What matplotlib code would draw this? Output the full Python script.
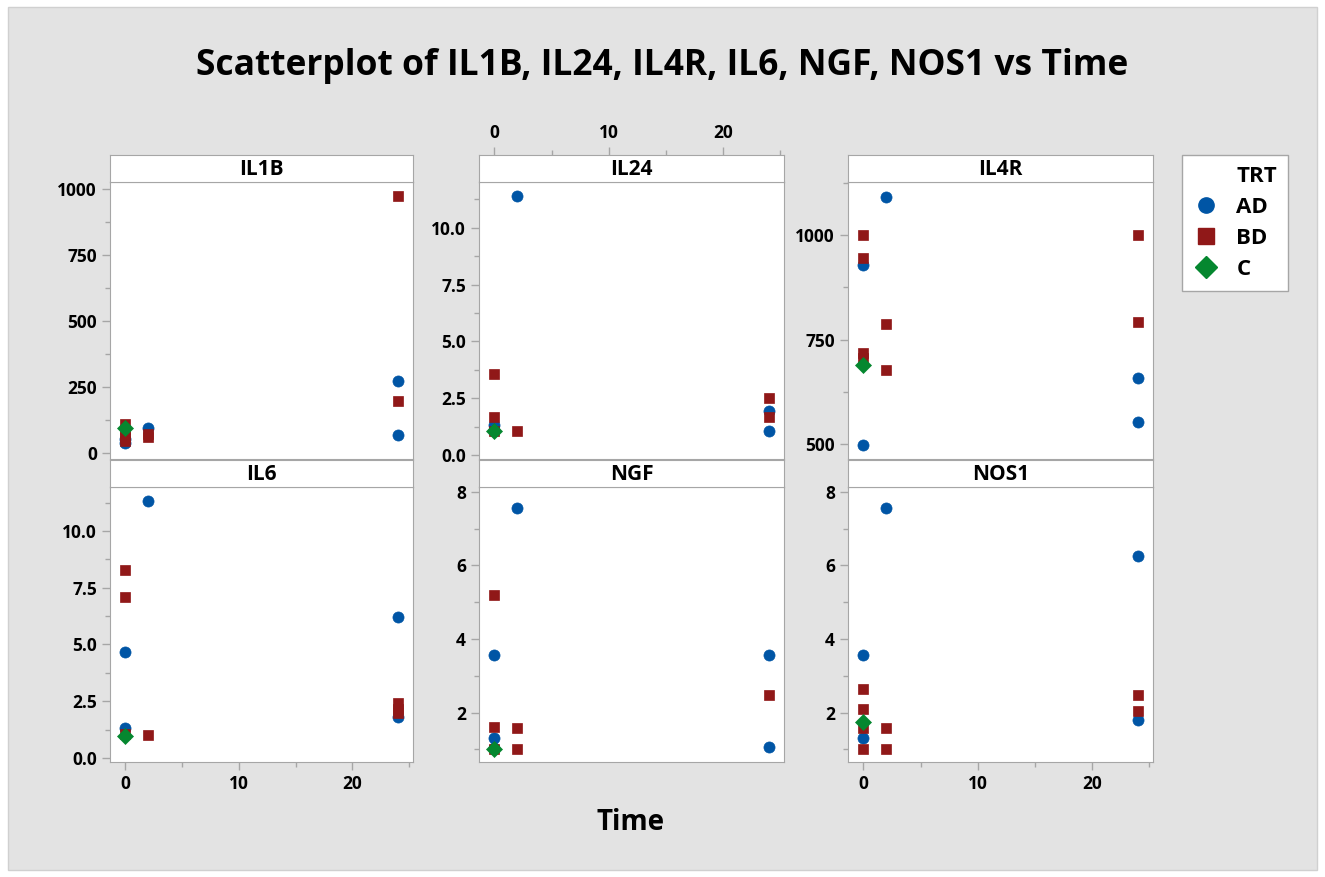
import matplotlib
matplotlib.use('Agg')
import matplotlib.pyplot as plt
from matplotlib.ticker import MultipleLocator
from matplotlib.lines import Line2D
from matplotlib.patches import Rectangle

plt.rcParams['font.family'] = ['Open Sans', 'DejaVu Sans']

# long-format data per gene: Time, TRT, value
il1b_time = [0, 0, 0, 0, 0, 0, 0, 2, 2, 2, 24, 24, 24, 24]
il1b_trt = ['AD', 'AD', 'BD', 'BD', 'BD', 'BD', 'C', 'AD', 'BD', 'BD', 'AD', 'AD', 'BD', 'BD']
il1b_val = [35, 50, 110, 85, 60, 45, 92, 95, 70, 58, 273, 68, 972, 197]

il24_time = [0, 0, 0, 0, 0, 0, 2, 2, 24, 24, 24, 24]
il24_trt = ['AD', 'AD', 'BD', 'BD', 'BD', 'C', 'AD', 'BD', 'AD', 'AD', 'BD', 'BD']
il24_val = [1.33, 1.1, 3.58, 1.69, 1.08, 1.08, 11.38, 1.08, 1.94, 1.08, 2.5, 1.68]

il4r_time = [0, 0, 0, 0, 0, 0, 0, 2, 2, 2, 24, 24, 24, 24]
il4r_trt = ['AD', 'AD', 'BD', 'BD', 'BD', 'BD', 'C', 'AD', 'BD', 'BD', 'AD', 'AD', 'BD', 'BD']
il4r_val = [928, 497, 1000, 945, 718, 706, 690, 1091, 786, 678, 657, 553, 1000, 792]

il6_time = [0, 0, 0, 0, 0, 0, 2, 2, 24, 24, 24, 24, 24]
il6_trt = ['AD', 'AD', 'BD', 'BD', 'BD', 'C', 'AD', 'BD', 'AD', 'AD', 'BD', 'BD', 'BD']
il6_val = [4.68, 1.31, 8.3, 7.09, 1.05, 0.98, 11.32, 1.0, 6.2, 1.8, 2.4, 2.15, 2.0]

ngf_time = [0, 0, 0, 0, 0, 0, 0, 2, 2, 2, 24, 24, 24]
ngf_trt = ['AD', 'AD', 'AD', 'BD', 'BD', 'BD', 'C', 'AD', 'BD', 'BD', 'AD', 'AD', 'BD']
ngf_val = [3.56, 1.32, 1.05, 5.2, 1.62, 1.0, 1.0, 7.55, 1.57, 1.0, 3.57, 1.06, 2.48]

nos1_time = [0, 0, 0, 0, 0, 0, 0, 2, 2, 2, 24, 24, 24, 24]
nos1_trt = ['AD', 'AD', 'BD', 'BD', 'BD', 'BD', 'C', 'AD', 'BD', 'BD', 'AD', 'AD', 'BD', 'BD']
nos1_val = [3.56, 1.31, 2.65, 2.1, 1.59, 1.0, 1.75, 7.55, 1.57, 1.0, 6.26, 1.8, 2.48, 2.05]

genes = ['IL1B', 'IL24', 'IL4R', 'IL6', 'NGF', 'NOS1']
times = [il1b_time, il24_time, il4r_time, il6_time, ngf_time, nos1_time]
trts = [il1b_trt, il24_trt, il4r_trt, il6_trt, ngf_trt, nos1_trt]
vals = [il1b_val, il24_val, il4r_val, il6_val, ngf_val, nos1_val]

groups = ['AD', 'BD', 'C']
colors = {'AD': '#0055a5', 'BD': '#901818', 'C': '#05872f'}
markers = {'AD': 'o', 'BD': 's', 'C': 'D'}
msize = {'AD': 8, 'BD': 7.5, 'C': 8}

ylims = [(-24, 1026), (-0.16, 12.0), (464, 1127), (-0.18, 11.94), (0.66, 8.13), (0.66, 8.13)]
ymaj = [250, 2.5, 250, 2.5, 2, 2]

W, H = 1325, 877
fig = plt.figure(figsize=(W / 100, H / 100), dpi=100)
fig.patches.append(Rectangle((8 / W, 1 - 870 / H), (1317 - 8) / W, (870 - 7) / H,
                             transform=fig.transFigure, facecolor='#e3e3e3',
                             edgecolor='#d0d0d0', lw=1, zorder=-5))


def rect(l, t, r, b):
    return [l / W, 1 - b / H, (r - l) / W, (b - t) / H]


cols = [(110, 413), (479, 784), (848, 1153)]
rows = [(155, 182, 459), (460, 487, 762)]
edge = '#a6a6a6'
tw = 'bold'

for i, gene in enumerate(genes):
    r, c = divmod(i, 3)
    l, rr = cols[c]
    st, pt, pb = rows[r]
    ax = fig.add_axes(rect(l, pt, rr, pb))
    strip = fig.add_axes(rect(l, st, rr, pt), sharex=ax)

    for g in groups:
        xs = [t for t, k in zip(times[i], trts[i]) if k == g]
        ys = [v for v, k in zip(vals[i], trts[i]) if k == g]
        ax.plot(xs, ys, ls='none', marker=markers[g], ms=msize[g], color=colors[g],
                mec=colors[g], mew=0.5)

    ax.set_xlim(-1.35, 25.35)
    ax.set_ylim(*ylims[i])
    ax.xaxis.set_major_locator(MultipleLocator(10))
    ax.xaxis.set_minor_locator(MultipleLocator(5))
    ax.yaxis.set_major_locator(MultipleLocator(ymaj[i]))
    ax.yaxis.set_minor_locator(MultipleLocator(ymaj[i] / 2))

    show_bottom = (r == 1 and c != 1)
    ax.tick_params(axis='x', which='both', bottom=show_bottom, labelbottom=show_bottom,
                   top=False, labeltop=False)
    ax.tick_params(axis='both', which='both', colors=edge, labelcolor='black',
                   labelsize=12.5, direction='out')
    ax.tick_params(which='major', length=6, width=1)
    ax.tick_params(which='minor', length=3.5, width=1)
    if gene == 'IL1B' or gene == 'IL4R':
        ax.yaxis.set_major_formatter(plt.FuncFormatter(lambda v, p: '%d' % v))
    elif gene in ('IL24', 'IL6'):
        ax.yaxis.set_major_formatter(plt.FuncFormatter(lambda v, p: '%.1f' % v))
    for lab in ax.get_xticklabels() + ax.get_yticklabels():
        lab.set_fontweight(tw)
    for s in ax.spines.values():
        s.set_color(edge)

    strip.set_facecolor('white')
    strip.set_yticks([])
    strip.tick_params(axis='x', which='both', bottom=False, labelbottom=False,
                      top=(c == 1 and r == 0), labeltop=(c == 1 and r == 0),
                      colors=edge, labelcolor='black', labelsize=12.5, direction='out')
    strip.tick_params(which='major', length=6, width=1)
    strip.tick_params(which='minor', length=3.5, width=1)
    for lab in strip.get_xticklabels():
        lab.set_fontweight(tw)
    for s in strip.spines.values():
        s.set_color(edge)
    strip.text(0.5, 0.45, gene, transform=strip.transAxes, ha='center', va='center',
               fontsize=15, fontweight=tw)

fig.text(662 / W, 1 - 66 / H, 'Scatterplot of IL1B, IL24, IL4R, IL6, NGF, NOS1 vs Time',
         ha='center', va='center', fontsize=25.5, fontweight='bold')
fig.text(631 / W, 1 - 822 / H, 'Time', ha='center', va='center', fontsize=20,
         fontweight='bold')

handles = [Line2D([], [], ls='none', label='TRT')]
for g in groups:
    handles.append(Line2D([], [], ls='none', marker=markers[g], color=colors[g],
                          ms=11, label=g))
leg = fig.legend(handles=handles, loc='upper left', bbox_to_anchor=(1182 / W, 1 - 155 / H),
                 frameon=True, fancybox=False, edgecolor=edge, framealpha=1,
                 prop={'size': 16, 'weight': 'bold'}, handlelength=1.2,
                 handletextpad=0.75, labelspacing=0.45, borderpad=0.5, borderaxespad=0)
leg.get_frame().set_linewidth(1)

fig.savefig('out.png', dpi=100)
